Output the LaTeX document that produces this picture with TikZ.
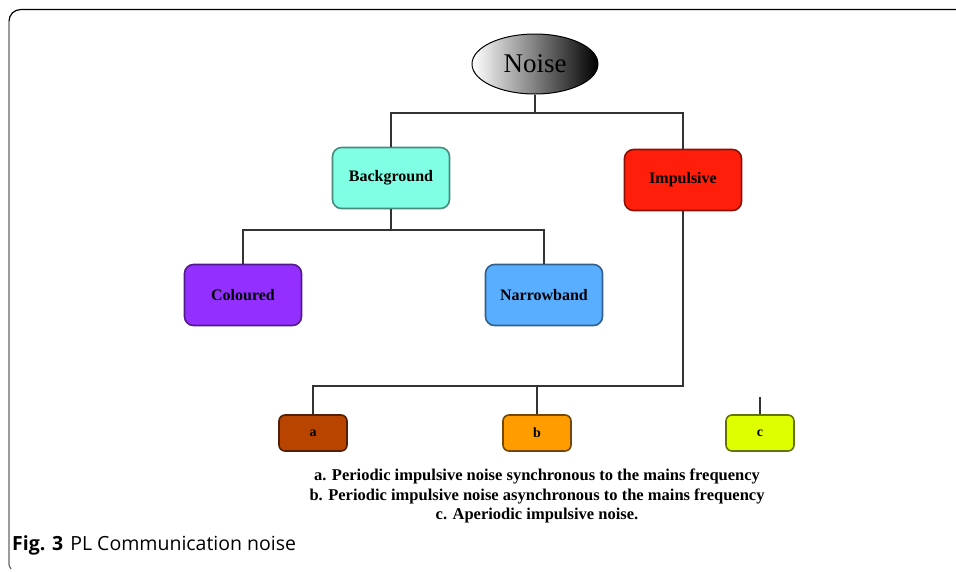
\documentclass[tikz,border=0pt]{standalone}
\usepackage{fontspec}
\setmainfont{Liberation Serif}
\newfontfamily\capfont{Open Sans}
\usetikzlibrary{shapes.geometric}
\definecolor{bgfill}{HTML}{80FFE4}
\definecolor{impfill}{HTML}{FF1E0A}
\definecolor{colfill}{HTML}{9430FF}
\definecolor{narfill}{HTML}{5AAEFF}
\definecolor{afill}{HTML}{B84400}
\definecolor{bfill}{HTML}{FF9D00}
\definecolor{cfill}{HTML}{DEFF00}
\tikzset{
  x=1pt,y=-1pt,
  bigbox/.style={draw=#1!55!black, fill=#1, line width=1.6pt, rounded corners=9pt,
     minimum width=117pt, minimum height=61pt, inner sep=0pt,
     font=\fontsize{16}{18}\selectfont\bfseries},
  smallbox/.style={draw=#1!45!black, fill=#1, line width=1.6pt, rounded corners=6pt,
     minimum width=68pt, minimum height=36pt, inner sep=0pt,
     font=\fontsize{14}{16}\selectfont\bfseries},
  conn/.style={draw=black!80, line width=1.6pt},
}
\begin{document}
\begin{tikzpicture}
\useasboundingbox (0,0) rectangle (956,571);
% frame
\draw[black, line width=1.2pt] (956,9.5) -- (21,9.5) .. controls (14,9.5) and (9,14.5) .. (9,21.5);
\draw[black!60, line width=1.2pt] (9,21.5) -- (9,562) .. controls (9,566) .. (11,569);
% nodes
\node[ellipse, draw=black, line width=1pt, left color=white, right color=black,
      minimum width=126pt, minimum height=60pt, inner sep=0pt,
      font=\fontsize{27}{30}\selectfont] (noise) at (535,64) {Noise};
\node[bigbox=bgfill] (bg) at (391,178) {Background};
\node[bigbox=impfill] (imp) at (683,180) {Impulsive};
\node[bigbox=colfill] (col) at (243,295) {Coloured};
\node[bigbox=narfill] (nar) at (544,295) {Narrowband};
\node[smallbox=afill] (a) at (313,433) {a};
\node[smallbox=bfill] (b) at (537,433) {b};
\node[smallbox=cfill] (c) at (760,433) {c};
% connectors
\coordinate (j1) at (535,113);
\coordinate (j2) at (391,230);
\coordinate (j3) at (683,386);
\draw[conn] (noise.south) -- (j1);
\draw[conn] (bg.north) |- (j1) -| (imp.north);
\draw[conn] (bg.south) -- (j2);
\draw[conn] (col.north) |- (j2) -| (nar.north);
\draw[conn] (imp.south) -- (j3) -| (a.north);
\draw[conn] (b.north) -- (b.north |- j3);
\draw[conn] (c.north) -- ++(0,-17) coordinate (cs);
% legend
\node[align=center, font=\fontsize{16.5}{19.5}\selectfont\bfseries, inner sep=0pt] (leg) at (537,496)
  {a. Periodic impulsive noise synchronous to the mains frequency\\
   b. Periodic impulsive noise asynchronous to the mains frequency\\
   c. Aperiodic impulsive noise.};
% caption
\node[anchor=west, inner sep=0pt, font=\capfont\fontsize{19.5}{22}\selectfont] (cap) at (12,545)
  {\textbf{Fig. 3}\hspace{7pt}PL Communication noise};
\end{tikzpicture}
\end{document}
